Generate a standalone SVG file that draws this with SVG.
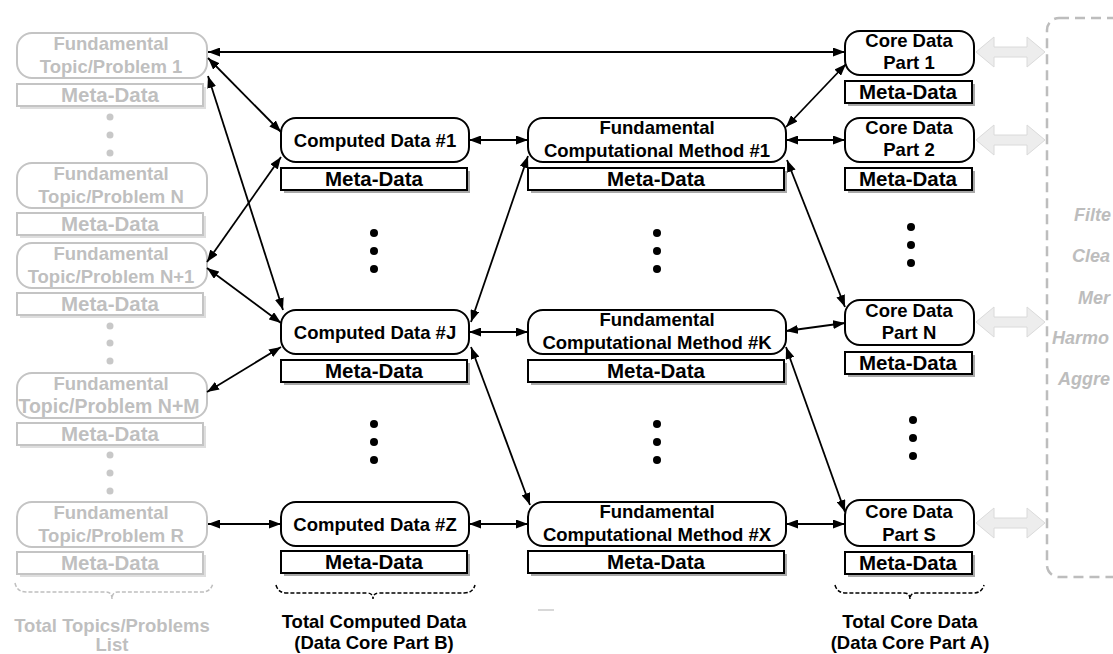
<svg xmlns="http://www.w3.org/2000/svg" width="1113" height="654" viewBox="0 0 1113 654">
<style>
text{font-family:"Liberation Sans",Arial,sans-serif;font-weight:bold;text-anchor:middle}
.t{font-size:18.5px;fill:#000}
.tg{font-size:18.5px;fill:#bfbfbf}
.m{font-size:20.5px;fill:#000}
.mg{font-size:20.5px;fill:#bfbfbf}
.nb{fill:#fff;stroke:#000;stroke-width:2}
.ng{fill:#fff;stroke:#c4c4c4;stroke-width:2}
.mb{fill:#fff;stroke:#000;stroke-width:2}
.mgb{fill:#fff;stroke:#c4c4c4;stroke-width:2}
.sh{fill:#a8a8a8}
.shg{fill:#dedede}
.dot{fill:#000}
.dotg{fill:#c8c8c8}
.c line{stroke:#000;stroke-width:1.8;marker-start:url(#ah);marker-end:url(#ah)}
.ga{fill:#ededed;stroke:#dadada;stroke-width:1}
.side{font-size:18px;font-style:italic;fill:#bdbdbd;text-anchor:start}
.brace{fill:none;stroke:#000;stroke-width:1.5;stroke-dasharray:4 2}
</style>
<defs>
<marker id="ah" viewBox="0 0 12 9" refX="12" refY="4.5" markerWidth="12" markerHeight="9" markerUnits="userSpaceOnUse" orient="auto-start-reverse">
<path d="M0,0 L12,4.5 L0,9 z" fill="#000"/>
</marker>
</defs>

<!-- dashed processing box -->
<g id="process">
<rect x="1047" y="18" width="110" height="559" rx="12" fill="none" stroke="#bdbdbd" stroke-width="2.5" stroke-dasharray="10 6"/>
<text class="side" x="1074" y="221">Filte</text>
<text class="side" x="1072" y="262">Clea</text>
<text class="side" x="1078" y="304">Mer</text>
<text class="side" x="1052" y="344">Harmo</text>
<text class="side" x="1058" y="385">Aggre</text>
</g>

<!-- left column topics -->
<g id="topic1">
<rect class="ng" x="17" y="33" width="190" height="45" rx="15"/>
<text class="tg" x="111" y="50">Fundamental</text>
<text class="tg" x="111" y="73">Topic/Problem 1</text>
<rect class="shg" x="20" y="87" width="186" height="22"/>
<rect class="mgb" x="17" y="84" width="186" height="22"/>
<text class="mg" x="110" y="102">Meta-Data</text>
</g>
<g id="dots-left-1">
<circle class="dotg" cx="110" cy="117" r="3.5"/><circle class="dotg" cx="110" cy="135" r="3.5"/><circle class="dotg" cx="110" cy="153" r="3.5"/>
</g>
<g id="topicN">
<rect class="ng" x="17" y="163" width="190" height="45" rx="15"/>
<text class="tg" x="111" y="180">Fundamental</text>
<text class="tg" x="111" y="203">Topic/Problem N</text>
<rect class="shg" x="20" y="216" width="186" height="22"/>
<rect class="mgb" x="17" y="213" width="186" height="22"/>
<text class="mg" x="110" y="231">Meta-Data</text>
</g>
<g id="topicN1">
<rect class="ng" x="17" y="243" width="190" height="45" rx="15"/>
<text class="tg" x="111" y="260">Fundamental</text>
<text class="tg" x="111" y="283">Topic/Problem N+1</text>
<rect class="shg" x="20" y="296" width="186" height="22"/>
<rect class="mgb" x="17" y="293" width="186" height="22"/>
<text class="mg" x="110" y="311">Meta-Data</text>
</g>
<g id="dots-left-2">
<circle class="dotg" cx="110" cy="326" r="3.5"/><circle class="dotg" cx="110" cy="343" r="3.5"/><circle class="dotg" cx="110" cy="361" r="3.5"/>
</g>
<g id="topicNM">
<rect class="ng" x="17" y="373" width="190" height="45" rx="15"/>
<text class="tg" x="111" y="390">Fundamental</text>
<text class="tg" x="109" y="413" style="font-size:19.5px">Topic/Problem N+M</text>
<rect class="shg" x="20" y="426" width="186" height="22"/>
<rect class="mgb" x="17" y="423" width="186" height="22"/>
<text class="mg" x="110" y="441">Meta-Data</text>
</g>
<g id="dots-left-3">
<circle class="dotg" cx="110" cy="455" r="3.5"/><circle class="dotg" cx="110" cy="473" r="3.5"/><circle class="dotg" cx="110" cy="491" r="3.5"/>
</g>
<g id="topicR">
<rect class="ng" x="17" y="502" width="190" height="45" rx="15"/>
<text class="tg" x="111" y="519">Fundamental</text>
<text class="tg" x="111" y="542">Topic/Problem R</text>
<rect class="shg" x="20" y="555" width="186" height="22"/>
<rect class="mgb" x="17" y="552" width="186" height="22"/>
<text class="mg" x="110" y="570">Meta-Data</text>
</g>
<g id="brace-left">
<path class="brace" style="stroke:#bfbfbf" d="M15,583 q2,9 11,9 H106 q6,0 6,7 q0,-7 6,-7 H202 q9,0 11,-9"/>
<text class="tg" x="112" y="632">Total Topics/Problems</text>
<text class="tg" x="112" y="651">List</text>
</g>

<!-- computed data column -->
<g id="computed1">
<rect class="nb" x="281" y="118" width="188" height="44" rx="15"/>
<text class="t" x="375" y="147">Computed Data #1</text>
<rect class="sh" x="284" y="171" width="186" height="22"/>
<rect class="mb" x="281" y="168" width="186" height="22"/>
<text class="m" x="374" y="186">Meta-Data</text>
</g>
<g id="dots-comp-1">
<circle class="dot" cx="374" cy="233" r="4"/><circle class="dot" cx="374" cy="251" r="4"/><circle class="dot" cx="374" cy="269" r="4"/>
</g>
<g id="computedJ">
<rect class="nb" x="281" y="310" width="188" height="44" rx="15"/>
<text class="t" x="375" y="339">Computed Data #J</text>
<rect class="sh" x="284" y="363" width="186" height="22"/>
<rect class="mb" x="281" y="360" width="186" height="22"/>
<text class="m" x="374" y="378">Meta-Data</text>
</g>
<g id="dots-comp-2">
<circle class="dot" cx="374" cy="424" r="4"/><circle class="dot" cx="374" cy="442" r="4"/><circle class="dot" cx="374" cy="460" r="4"/>
</g>
<g id="computedZ">
<rect class="nb" x="281" y="502" width="188" height="44" rx="15"/>
<text class="t" x="375" y="531">Computed Data #Z</text>
<rect class="sh" x="284" y="554" width="186" height="22"/>
<rect class="mb" x="281" y="551" width="186" height="22"/>
<text class="m" x="374" y="569">Meta-Data</text>
</g>
<g id="brace-center">
<path class="brace" d="M276,585 q2,8 11,8 H367 q6,0 6,6 q0,-6 6,-6 H464 q9,0 11,-8"/>
<text class="t" x="374" y="628">Total Computed Data</text>
<text class="t" x="374" y="649">(Data Core Part B)</text>
</g>
<line x1="538" y1="610" x2="554" y2="610" stroke="#d8d8d8" stroke-width="2"/>

<!-- fundamental computational methods -->
<g id="method1">
<rect class="nb" x="528" y="118" width="258" height="44" rx="15"/>
<text class="t" x="657" y="134">Fundamental</text>
<text class="t" x="657" y="157">Computational Method #1</text>
<rect class="sh" x="531" y="171" width="256" height="22"/>
<rect class="mb" x="528" y="168" width="256" height="22"/>
<text class="m" x="656" y="186">Meta-Data</text>
</g>
<g id="dots-meth-1">
<circle class="dot" cx="657" cy="233" r="4"/><circle class="dot" cx="657" cy="251" r="4"/><circle class="dot" cx="657" cy="269" r="4"/>
</g>
<g id="methodK">
<rect class="nb" x="528" y="310" width="258" height="44" rx="15"/>
<text class="t" x="657" y="326">Fundamental</text>
<text class="t" x="657" y="349">Computational Method #K</text>
<rect class="sh" x="531" y="363" width="256" height="22"/>
<rect class="mb" x="528" y="360" width="256" height="22"/>
<text class="m" x="656" y="378">Meta-Data</text>
</g>
<g id="dots-meth-2">
<circle class="dot" cx="657" cy="424" r="4"/><circle class="dot" cx="657" cy="442" r="4"/><circle class="dot" cx="657" cy="460" r="4"/>
</g>
<g id="methodX">
<rect class="nb" x="528" y="502" width="258" height="44" rx="15"/>
<text class="t" x="657" y="518">Fundamental</text>
<text class="t" x="657" y="541">Computational Method #X</text>
<rect class="sh" x="531" y="554" width="256" height="22"/>
<rect class="mb" x="528" y="551" width="256" height="22"/>
<text class="m" x="656" y="569">Meta-Data</text>
</g>

<!-- core data column -->
<g id="core1">
<rect class="nb" x="845" y="31" width="129" height="44" rx="15"/>
<text class="t" x="909" y="47">Core Data</text>
<text class="t" x="909" y="69">Part 1</text>
<rect class="sh" x="848" y="84" width="127" height="22"/>
<rect class="mb" x="845" y="81" width="127" height="22"/>
<text class="m" x="908" y="99">Meta-Data</text>
</g>
<g id="core2">
<rect class="nb" x="845" y="118" width="129" height="44" rx="15"/>
<text class="t" x="909" y="134">Core Data</text>
<text class="t" x="909" y="156">Part 2</text>
<rect class="sh" x="848" y="171" width="127" height="22"/>
<rect class="mb" x="845" y="168" width="127" height="22"/>
<text class="m" x="908" y="186">Meta-Data</text>
</g>
<g id="dots-core-1">
<circle class="dot" cx="911" cy="227" r="4"/><circle class="dot" cx="911" cy="245" r="4"/><circle class="dot" cx="911" cy="263" r="4"/>
</g>
<g id="coreN">
<rect class="nb" x="845" y="300" width="129" height="45" rx="15"/>
<text class="t" x="909" y="317">Core Data</text>
<text class="t" x="909" y="339">Part N</text>
<rect class="sh" x="848" y="355" width="127" height="22"/>
<rect class="mb" x="845" y="352" width="127" height="22"/>
<text class="m" x="908" y="370">Meta-Data</text>
</g>
<g id="dots-core-2">
<circle class="dot" cx="913" cy="420" r="4"/><circle class="dot" cx="913" cy="438" r="4"/><circle class="dot" cx="913" cy="456" r="4"/>
</g>
<g id="coreS">
<rect class="nb" x="845" y="500" width="129" height="46" rx="15"/>
<text class="t" x="909" y="518">Core Data</text>
<text class="t" x="909" y="541">Part S</text>
<rect class="sh" x="848" y="555" width="127" height="22"/>
<rect class="mb" x="845" y="552" width="127" height="22"/>
<text class="m" x="908" y="570">Meta-Data</text>
</g>
<g id="brace-right">
<path class="brace" d="M835,585 q2,8 11,8 H904 q6,0 6,6 q0,-6 6,-6 H973 q9,0 11,-8"/>
<text class="t" x="910" y="628">Total Core Data</text>
<text class="t" x="910" y="649">(Data Core Part A)</text>
</g>

<!-- gray exchange arrows -->
<g id="exchange-arrows">
<polygon class="ga" points="976,52 994,37 994,47 1027,47 1027,37 1045,52 1027,67 1027,57 994,57 994,67"/>
<polygon class="ga" points="976,140 994,125 994,135 1027,135 1027,125 1045,140 1027,155 1027,145 994,145 994,155"/>
<polygon class="ga" points="976,322 994,307 994,317 1027,317 1027,307 1045,322 1027,337 1027,327 994,327 994,337"/>
<polygon class="ga" points="976,523 994,508 994,518 1027,518 1027,508 1045,523 1027,538 1027,528 994,528 994,538"/>
</g>

<!-- connectors -->
<g id="connectors" class="c">
<line x1="208" y1="52" x2="845" y2="52"/>
<line x1="208" y1="58" x2="281" y2="132"/>
<line x1="208" y1="76" x2="283" y2="310"/>
<line x1="207" y1="262" x2="281" y2="157"/>
<line x1="207" y1="268" x2="281" y2="323"/>
<line x1="207" y1="392" x2="281" y2="347"/>
<line x1="208" y1="524" x2="281" y2="524"/>
<line x1="469" y1="140" x2="528" y2="140"/>
<line x1="469" y1="332" x2="528" y2="332"/>
<line x1="469" y1="524" x2="528" y2="524"/>
<line x1="528" y1="156" x2="471" y2="322"/>
<line x1="471" y1="347" x2="530" y2="505"/>
<line x1="786" y1="140" x2="845" y2="140"/>
<line x1="786" y1="127" x2="846" y2="64"/>
<line x1="787" y1="160" x2="845" y2="307"/>
<line x1="786" y1="331" x2="845" y2="323"/>
<line x1="786" y1="347" x2="845" y2="512"/>
<line x1="786" y1="524" x2="845" y2="524"/>
</g>
</svg>
